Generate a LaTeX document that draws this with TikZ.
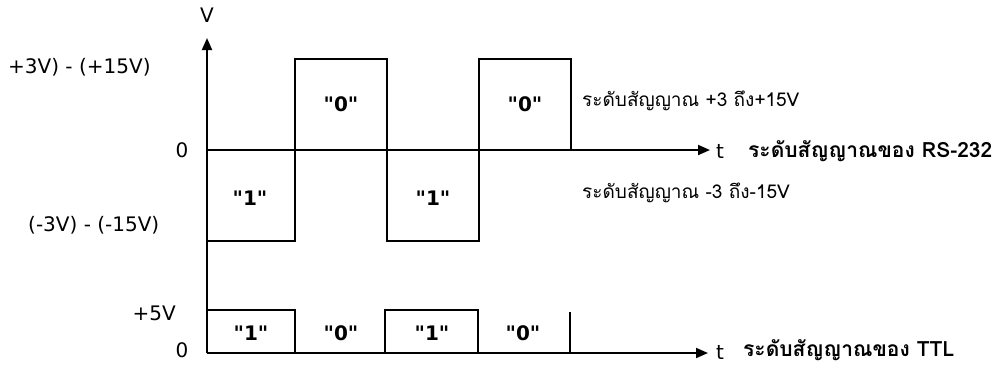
\documentclass[tikz,border=0pt]{standalone}
\usepackage{fontspec}
\setmainfont{DejaVu Sans}
\newfontfamily\bitfont[Ligatures=TeXOff]{DejaVu Sans}
\newfontfamily\thaifont[Script=Thai]{Loma}
\usetikzlibrary{arrows.meta}
\tikzset{
  wave/.style={line width=1.9pt, line join=miter},
  axisline/.style={line width=1.9pt, -{Triangle[length=12pt,width=10pt]}},
  lbl/.style={font=\fontsize{20}{20}\selectfont, inner sep=0pt},
  bit/.style={font=\bitfont\fontsize{20}{20}\selectfont\bfseries, inner sep=0pt},
  thai/.style={font=\thaifont\fontsize{19}{19}\selectfont, inner sep=0pt},
  thaib/.style={font=\thaifont\fontsize{21}{21}\selectfont\bfseries, inner sep=0pt}
}
\begin{document}
\begin{tikzpicture}[x=1pt,y=-1pt]
\useasboundingbox (0,0) rectangle (1003,367);
% axes coordinates
\coordinate (o) at (207,353);
\coordinate (vtop) at (207,38);
\coordinate (rs0) at (207,150);
\coordinate (rsend) at (710,150);
\coordinate (ttlend) at (708,353);
% axes
\draw[axisline] (o) -- (vtop);
\draw[axisline] (rs0) -- (rsend);
\draw[axisline] (o) -- (ttlend);
% RS-232 waveform
\draw[wave] (207,241) -- (295,241) -- (295,59) -- (387,59) -- (387,241)
  -- (479,241) -- (479,59) -- (571,59) -- (571,150);
% TTL waveform
\draw[wave] (207,310) -- (295,310) -- (295,353);
\draw[wave] (385,353) -- (385,310) -- (478,310) -- (478,353);
\draw[wave] (570,353) -- (570,312);
% axis labels
\node[lbl] (V) at (207,15) {V};
\node[lbl, anchor=west] (tRS) at (716,151) {t};
\node[lbl, anchor=west] (tTTL) at (716,352) {t};
% level labels
\node[lbl, anchor=west] (hi) at (8,67) {+3V) - (+15V)};
\node[lbl] (z1) at (182,150) {0};
\node[lbl, anchor=west] (lo) at (28,225) {(-3V) - (-15V)};
\node[lbl, anchor=east] (p5) at (176,313) {+5V};
\node[lbl] (z2) at (182,350) {0};
% bit labels
\node[bit] (b1) at (341,104) {"0"};
\node[bit] (b2) at (525,104) {"0"};
\node[bit] (b3) at (250,198) {"1"};
\node[bit] (b4) at (433,198) {"1"};
\node[bit] (c1) at (251,333) {"1"};
\node[bit] (c2) at (341,333) {"0"};
\node[bit] (c3) at (432,333) {"1"};
\node[bit] (c4) at (523,333) {"0"};
% Thai labels
\node[thai, anchor=west] (thhi) at (582,101) {ระดับสัญญาณ +3 ถึง+15V};
\node[thai, anchor=west] (thlo) at (582,193) {ระดับสัญญาณ -3 ถึง-15V};
\node[thaib, anchor=west] (thrs) at (748,151) {ระดับสัญญาณของ RS-232};
\node[thaib, anchor=west] (thttl) at (743,350) {ระดับสัญญาณของ TTL};
\end{tikzpicture}
\end{document}
